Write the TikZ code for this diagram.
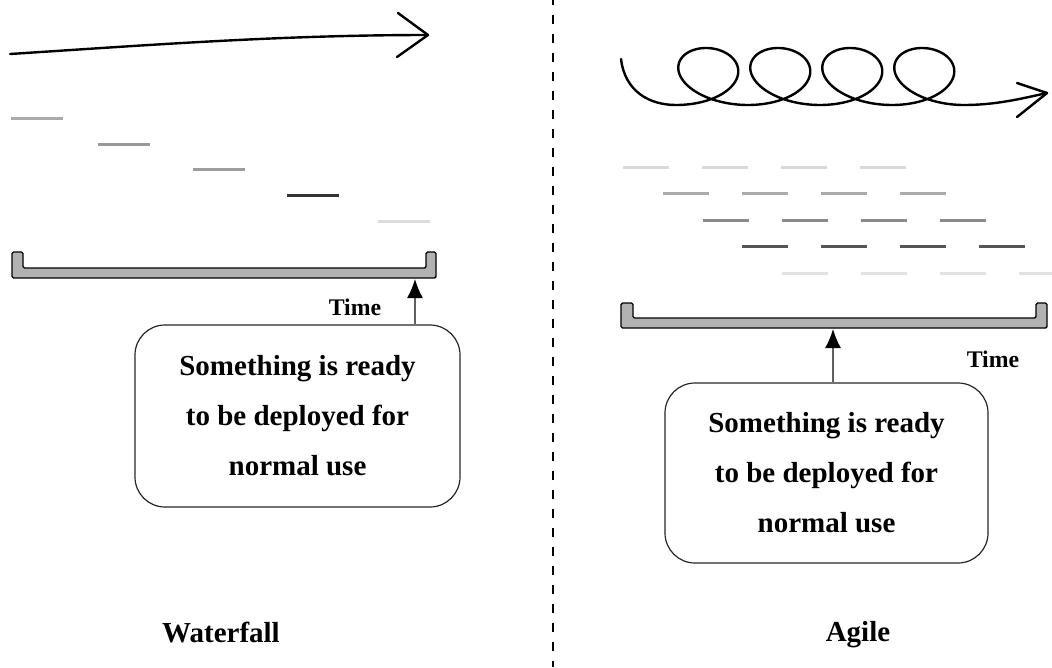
\documentclass[tikz,border=0pt]{standalone}
\usepackage{fontspec}
\setmainfont{Liberation Serif}
\usetikzlibrary{arrows.meta}
\definecolor{wA}{HTML}{ABABAB}
\definecolor{wB}{HTML}{999999}
\definecolor{wC}{HTML}{9C9C9C}
\definecolor{wD}{HTML}{333333}
\definecolor{wE}{HTML}{DDDDDD}
\definecolor{aA}{HTML}{DADADA}
\definecolor{aB}{HTML}{ABABAB}
\definecolor{aC}{HTML}{8A8A8A}
\definecolor{aD}{HTML}{555555}
\definecolor{aE}{HTML}{E2E2E2}
\begin{document}
\begin{tikzpicture}[x=1pt,y=-1pt,
  stroke/.style={line width=2.4pt, line cap=round, line join=round},
  bar/.style={line width=3pt},
  tray/.style={draw=black, fill=gray!60, line width=1.4pt, rounded corners=1.5pt},
  release/.style={draw=black!85, line width=1.2pt, rounded corners=30pt,
    minimum width=325pt, minimum height=182pt, align=center, inner sep=0pt,
    font=\fontsize{29}{50}\selectfont\bfseries},
  uparrow/.style={draw=gray!75!black, line width=1.5pt,
    -{Latex[length=19pt,width=16pt,color=black]}},
  caption/.style={font=\fontsize{29}{34}\selectfont\bfseries, anchor=base},
  timelabel/.style={font=\fontsize{23.8}{28}\selectfont\bfseries, anchor=base}]
\useasboundingbox (0,0) rectangle (1052,667);

% ---------- divider ----------
\draw[line width=2pt, dash pattern=on 9pt off 10pt, dash phase=4pt] (553,0) -- (553,667);

% ---------- Waterfall ----------
% straight-ahead progress
\draw[stroke] (10,54) .. controls (150,45) and (280,35) .. (428,35);
\draw[stroke] (398,13) -- (428,35) -- (397,57);

% sequential phases
\foreach \x/\y/\c in {11/118/wA, 98/144/wB, 193/169/wC, 287/195/wD, 378/221/wE}
  \draw[bar, draw=\c] (\x,\y) -- ++(52,0);

% time axis
\draw[tray] (12,252) -- (12,278) -- (436,278) -- (436,252) -- (426,252)
  -- (426,268) -- (23,268) -- (23,252) -- cycle;
\coordinate (wtip) at (415,279);

\node[timelabel] (wtime) at (355,315) {Time};
\node[release] (wbox) at (297.5,416) {Something is ready\\to be deployed for\\normal use};
\draw[uparrow] (wbox.north -| wtip) -- (wtip);

\node[caption] (wname) at (221,642) {Waterfall};

% ---------- Agile ----------
% iterative progress: four loops along a rising line
\draw[stroke] (621,59) .. controls (625,92) and (650,105) .. (676,105)
  -- plot[domain=0:8*pi, samples=400, variable=\t]
     ({676 + 11.46*\t + 46.5*sin(\t r) - 3*(1 - cos(\t r))}, {76.5 + 28.5*cos(\t r)})
  .. controls (995,105) and (1020,99) .. (1047,93);
\draw[stroke] (1017,83) -- (1047,93) -- (1017,117);

% overlapping iterations
\foreach \r/\c in {0/aA, 1/aB, 2/aC, 3/aD, 4/aE}
  \foreach \k in {0,...,3}
    \draw[bar, draw=\c] ({623+39.75*\r+79*\k},{167+26.5*\r}) -- ++(46,0);

% time axis
\draw[tray] (621,303) -- (621,328) -- (1047,328) -- (1047,303) -- (1036,303)
  -- (1036,318) -- (633,318) -- (633,303) -- cycle;
\coordinate (atip) at (833,329);

\node[timelabel] (atime) at (993,367) {Time};
\node[release, minimum width=323pt, minimum height=180pt] (abox) at (826.5,473)
  {Something is ready\\to be deployed for\\normal use};
\draw[uparrow] (abox.north -| atip) -- (atip);

\node[caption] (aname) at (858,641) {Agile};
\end{tikzpicture}
\end{document}
